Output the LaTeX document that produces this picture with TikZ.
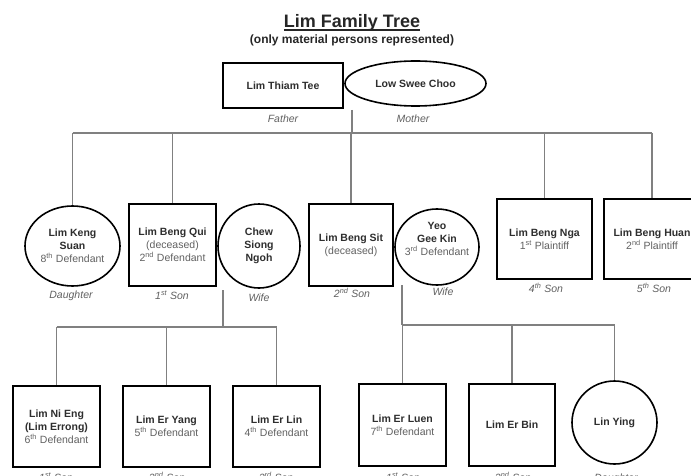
\documentclass[tikz,border=0pt]{standalone}
\usepackage{fontspec}
\setmainfont{Liberation Sans}
\usetikzlibrary{shapes.geometric}
\newcommand\pname[1]{\textbf{#1}}
\newcommand\pdesc[1]{{\color{black!62}#1}}
\begin{document}
\begin{tikzpicture}[x=1pt,y=-1pt,
  every node/.style={font=\fontsize{10.5}{13}\selectfont},
  pbox/.style={draw=black,line width=1.6pt,rectangle,inner sep=0pt,align=center,text=black!82},
  pell/.style={draw=black,line width=1.6pt,ellipse,inner sep=0pt,align=center,text=black!82},
  lbl/.style={font=\fontsize{10.5}{12}\selectfont\itshape,text=black!62,inner sep=0pt,anchor=base},
  link/.style={draw=black!50,line width=1.1pt}]
\useasboundingbox (0,0) rectangle (691,476);
\clip (0,0) rectangle (691,476);
\fill[white] (0,0) rectangle (691,476);

% title
\node[inner sep=0pt,anchor=base,font=\fontsize{18}{20}\selectfont\bfseries,text=black!85] (title) at (352,28) {Lim Family Tree};
\draw[line width=1.5pt,black!85] ([yshift=-2pt]title.base west) -- ([yshift=-2pt]title.base east);
\node[inner sep=0pt,anchor=base,font=\fontsize{12}{14}\selectfont\bfseries,text=black!85] (subtitle) at (352,44) {(only material persons represented)};

% parents
\node[pbox,minimum width=120,minimum height=45] (tt) at (283,85.5) {\pname{Lim Thiam Tee}};
\node[pell,minimum width=141,minimum height=45] (lsc) at (415.5,83.5) {\pname{Low Swee Choo}};
\node[lbl] (lfather) at (283,123) {Father};
\node[lbl] (lmother) at (413,123) {Mother};

% second generation
\node[pell,minimum width=95,minimum height=80] (ks) at (72.5,246) {\pname{Lim Keng}\\\pname{Suan}\\\pdesc{8\textsuperscript{th} Defendant}};
\node[pbox,minimum width=87,minimum height=82] (bq) at (172.5,245) {\pname{Lim Beng Qui}\\\pdesc{(deceased)}\\\pdesc{2\textsuperscript{nd} Defendant}};
\node[pell,minimum width=82,minimum height=84] (cs) at (259,246) {\pname{Chew}\\\pname{Siong}\\\pname{Ngoh}};
\node[pbox,minimum width=84,minimum height=82] (bs) at (351,245) {\pname{Lim Beng Sit}\\\pdesc{(deceased)}};
\node[pell,minimum width=84,minimum height=76,
  label={[align=center,text=black!82,yshift=8pt]center:\pname{Yeo}\\\pname{Gee Kin}\\\pdesc{3\textsuperscript{rd} Defendant}}] (yg) at (437,247) {};
\node[pbox,minimum width=95,minimum height=80] (bn) at (544.5,239) {\pname{Lim Beng Nga}\\\pdesc{1\textsuperscript{st} Plaintiff}};
\node[pbox,minimum width=96,minimum height=80] (bh) at (652,239) {\pname{Lim Beng Huan}\\\pdesc{2\textsuperscript{nd} Plaintiff}};

\node[lbl] (lks) at (71,298) {Daughter};
\node[lbl] (lbq) at (172,299) {1\textsuperscript{st} Son};
\node[lbl] (lcs) at (259,301) {Wife};
\node[lbl] (lbs) at (352,297) {2\textsuperscript{nd} Son};
\node[lbl] (lyg) at (443,295) {Wife};
\node[lbl] (lbn) at (546,292) {4\textsuperscript{th} Son};
\node[lbl] (lbh) at (654,292) {5\textsuperscript{th} Son};

% third generation
\node[pbox,minimum width=87,minimum height=81] (ne) at (56.5,426.5) {\pname{Lim Ni Eng}\\\pname{(Lim Errong)}\\\pdesc{6\textsuperscript{th} Defendant}};
\node[pbox,minimum width=87,minimum height=81] (ey) at (166.5,426.5) {\pname{Lim Er Yang}\\\pdesc{5\textsuperscript{th} Defendant}};
\node[pbox,minimum width=87,minimum height=81] (el) at (276.5,426.5) {\pname{Lim Er Lin}\\\pdesc{4\textsuperscript{th} Defendant}};
\node[pbox,minimum width=87,minimum height=82] (eu) at (402.5,425) {\pname{Lim Er Luen}\\\pdesc{7\textsuperscript{th} Defendant}};
\node[pbox,minimum width=86,minimum height=82] (eb) at (512,425) {\pname{Lim Er Bin}};
\node[pell,minimum width=85,minimum height=83] (ly) at (614.5,422.5) {\pname{Lin Ying}};

\node[lbl] (lne) at (56,481) {1\textsuperscript{st} Son};
\node[lbl] (ley) at (167,481) {2\textsuperscript{nd} Son};
\node[lbl] (lel) at (276,481) {3\textsuperscript{rd} Son};
\node[lbl] (leu) at (403,481) {1\textsuperscript{st} Son};
\node[lbl] (leb) at (513,481) {2\textsuperscript{nd} Son};
\node[lbl] (lly) at (616,481) {Daughter};

% connectors: parents to children
\coordinate (pj) at (352,110);
\coordinate (bar1) at (352,133);
\draw[link] (pj) -- (bar1);
\draw[link] (ks.north |- bar1) -- (bh.north |- bar1);
\foreach \n in {ks,bq,bs,bn,bh} \draw[link] (\n.north |- bar1) -- (\n.north);

% Lim Beng Qui's children
\coordinate (q1) at (223,290);
\coordinate (q2) at (223,327);
\draw[link] (q1) -- (q2);
\draw[link] (ne.north |- q2) -- (el.north |- q2);
\foreach \n in {ne,ey,el} \draw[link] (\n.north |- q2) -- (\n.north);

% Lim Beng Sit's children
\coordinate (s1) at (402,285);
\coordinate (s2) at (402,325);
\draw[link] (s1) -- (s2);
\draw[link] (eu.north |- s2) -- (ly.north |- s2);
\foreach \n in {eu,eb,ly} \draw[link] (\n.north |- s2) -- (\n.north);
\end{tikzpicture}
\end{document}
